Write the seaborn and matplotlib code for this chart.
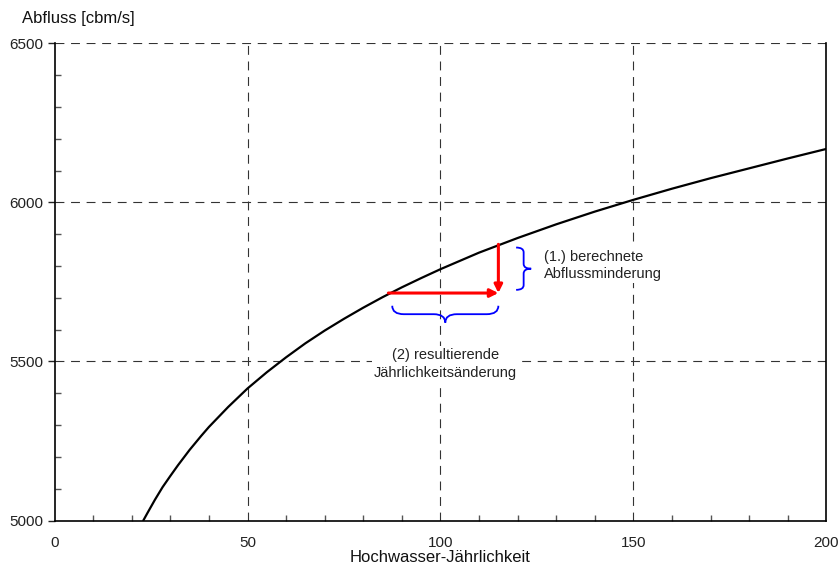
import numpy as np
import matplotlib
matplotlib.use('Agg')
import matplotlib.pyplot as plt
import seaborn as sns
from matplotlib.path import Path
from matplotlib.patches import PathPatch
from matplotlib.ticker import MultipleLocator

# Flood discharge vs. return period
return_period = [23, 24, 26, 28, 30, 32, 35, 38, 40, 45, 50, 55, 60, 65, 70, 75, 80, 85, 90, 95, 100,
                 110, 120, 130, 140, 150, 160, 170, 180, 190, 200]
discharge = [5000, 5022, 5065, 5105, 5140, 5174, 5222, 5266, 5294, 5357, 5415, 5466, 5513, 5557,
             5597, 5634, 5669, 5702, 5733, 5762, 5790,
             5842, 5888, 5931, 5971, 6008, 6043, 6076, 6107, 6138, 6168]

# Arrow construction: original return period -> reduced discharge
t_start = 86.5
t_end = 115.0
q_low = 5715
q_high = 5868

x_ticks = [0, 50, 100, 150, 200]
y_ticks = [5000, 5500, 6000, 6500]

sns.set_style("white")
plt.rcParams['font.family'] = ['Liberation Sans', 'DejaVu Sans']

fig = plt.figure(figsize=(8.39, 5.68), dpi=100)
ax = fig.add_axes([0.065, 0.0836, 0.920, 0.8402])

sns.lineplot(x=return_period, y=discharge, color='black', linewidth=1.6, ax=ax)
ax.lines[0].set_solid_joinstyle('round')

ax.set_xlim(0, 200)
ax.set_ylim(5000, 6500)
ax.set_xticks(x_ticks)
ax.set_yticks(y_ticks)
ax.xaxis.set_minor_locator(MultipleLocator(10))
ax.yaxis.set_minor_locator(MultipleLocator(100))

# Dashed grid
for x in x_ticks[1:-1]:
    ax.axvline(x, color='#333333', linewidth=0.8, linestyle=(0, (8, 6)), zorder=0)
for y in y_ticks[1:]:
    ax.axhline(y, color='#333333', linewidth=0.8, linestyle=(0, (8, 6)), zorder=0)

ax.spines['top'].set_visible(False)
for side in ['left', 'bottom', 'right']:
    ax.spines[side].set_color('black')
    ax.spines[side].set_linewidth(1.2)

ax.tick_params(axis='y', which='major', direction='out', length=5, width=1, pad=3,
               labelsize=11, colors='#222222', left=True)
ax.tick_params(axis='y', which='minor', direction='in', length=4, width=1,
               color='#555555', left=True)
ax.tick_params(axis='x', which='major', direction='in', length=0, pad=11,
               labelsize=11, colors='#222222', bottom=True)
ax.tick_params(axis='x', which='minor', direction='in', length=4, width=1,
               color='#555555', bottom=True)

ax.set_xlabel('Hochwasser-Jährlichkeit', fontsize=12, color='#111111', labelpad=0)
fig.text(0.026, 0.968, 'Abfluss [cbm/s]', fontsize=12, color='#111111',
         ha='left', va='center')

# Red arrows
ax.annotate('', xy=(t_end, q_low), xytext=(t_start, q_low),
            arrowprops=dict(arrowstyle='-|>', color='red', lw=2.2,
                            mutation_scale=12, shrinkA=0, shrinkB=0))
ax.annotate('', xy=(t_end, q_low), xytext=(t_end, q_high),
            arrowprops=dict(arrowstyle='-|>', color='red', lw=2.2,
                            mutation_scale=12, shrinkA=0, shrinkB=0))


def brace_vertical(ax, x0, w, y0, y1, r):
    xm = x0 + w / 2
    ym = (y0 + y1) / 2
    verts = [(x0, y1), (xm, y1), (xm, y1 - r),
             (xm, ym + r), (xm, ym), (x0 + w, ym),
             (xm, ym), (xm, ym - r),
             (xm, y0 + r), (xm, y0), (x0, y0)]
    codes = [Path.MOVETO, Path.CURVE3, Path.CURVE3,
             Path.LINETO, Path.CURVE3, Path.CURVE3,
             Path.CURVE3, Path.CURVE3,
             Path.LINETO, Path.CURVE3, Path.CURVE3]
    ax.add_patch(PathPatch(Path(verts, codes), fill=False, edgecolor='blue', lw=1.3))


def brace_horizontal(ax, x0, x1, y0, h, r):
    ym = y0 - h / 2
    xm = (x0 + x1) / 2
    verts = [(x0, y0), (x0, ym), (x0 + r, ym),
             (xm - r, ym), (xm, ym), (xm, y0 - h),
             (xm, ym), (xm + r, ym),
             (x1 - r, ym), (x1, ym), (x1, y0)]
    codes = [Path.MOVETO, Path.CURVE3, Path.CURVE3,
             Path.LINETO, Path.CURVE3, Path.CURVE3,
             Path.CURVE3, Path.CURVE3,
             Path.LINETO, Path.CURVE3, Path.CURVE3]
    ax.add_patch(PathPatch(Path(verts, codes), fill=False, edgecolor='blue', lw=1.3,
                           zorder=3))


brace_vertical(ax, t_end + 4.6, 3.9, q_low + 10, q_high - 10, 15)
brace_horizontal(ax, t_start + 1, t_end, q_low - 40, 53, 3)

box = dict(facecolor='white', edgecolor='none', pad=1.5)
ax.text(t_end + 11.7, (q_low + q_high) / 2 + 10, '(1.) berechnete\nAbflussminderung',
        fontsize=10.5, color='#222222', ha='left', va='center', linespacing=1.3,
        bbox=box)
ax.text((t_start + t_end) / 2 + 0.5, 5492, '(2) resultierende\nJährlichkeitsänderung',
        fontsize=10.5, color='#222222', ha='center', va='center', linespacing=1.3,
        bbox=box)

fig.savefig('out.png', dpi=100)
